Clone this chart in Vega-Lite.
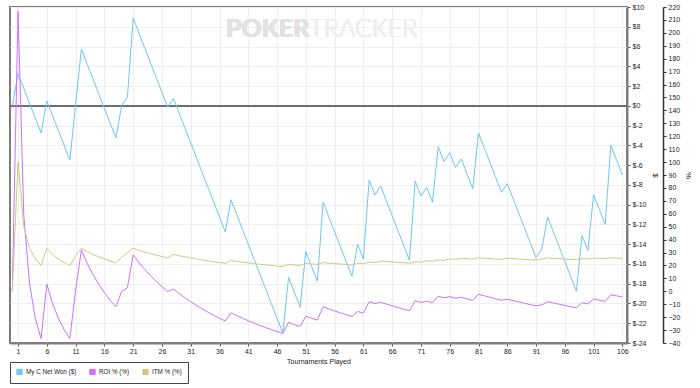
{
"$schema":"https://vega.github.io/schema/vega-lite/v6.json",
"width":617,"height":336,
"autosize":{"type":"none"},
"padding":{"left":10,"top":7,"right":73,"bottom":45},
"background":"white",
"config":{
 "font":"Liberation Sans",
 "view":{"stroke":"#7a7a7a","strokeWidth":2},
 "axis":{"labelFontSize":7,"labelColor":"#222","titleFontSize":7,"titleFontWeight":"normal","titleColor":"#222","tickColor":"#555","tickSize":3,"domainColor":"#808080","labelPadding":2,"labelOverlap":false,"tickCount":200},
 "legend":{"orient":"none","legendX":0,"legendY":355,"direction":"horizontal","title":null,"strokeColor":"#444","fillColor":"white","padding":6,"symbolType":"square","symbolSize":28,"symbolStrokeColor":"#333","symbolStrokeWidth":1,"labelFontSize":6.3,"labelOffset":3,"labelColor":"#222","columnPadding":10}
},
"data":{"values":[
{"t":0,"net":0,"roi":0,"itm":0},
{"t":1,"net":3.25,"roi":216.7,"itm":100},
{"t":2,"net":1.75,"roi":58.3,"itm":50},
{"t":3,"net":0.25,"roi":5.6,"itm":33.3},
{"t":4,"net":-1.25,"roi":-20.8,"itm":25},
{"t":5,"net":-2.75,"roi":-36.7,"itm":20},
{"t":6,"net":0.5,"roi":5.6,"itm":33.3},
{"t":7,"net":-1,"roi":-9.5,"itm":28.6},
{"t":8,"net":-2.5,"roi":-20.8,"itm":25},
{"t":9,"net":-4,"roi":-29.6,"itm":22.2},
{"t":10,"net":-5.5,"roi":-36.7,"itm":20},
{"t":11,"net":0.125,"roi":0.8,"itm":27.3},
{"t":12,"net":5.75,"roi":31.9,"itm":33.3},
{"t":13,"net":4.25,"roi":21.8,"itm":30.8},
{"t":14,"net":2.75,"roi":13.1,"itm":28.6},
{"t":15,"net":1.25,"roi":5.6,"itm":26.7},
{"t":16,"net":-0.25,"roi":-1,"itm":25},
{"t":17,"net":-1.75,"roi":-6.9,"itm":23.5},
{"t":18,"net":-3.25,"roi":-12,"itm":22.2},
{"t":19,"net":0,"roi":0,"itm":26.3},
{"t":20,"net":0.875,"roi":2.9,"itm":30},
{"t":21,"net":8.875,"roi":28.2,"itm":33.3},
{"t":22,"net":7.375,"roi":22.3,"itm":31.8},
{"t":23,"net":5.875,"roi":17,"itm":30.4},
{"t":24,"net":4.375,"roi":12.2,"itm":29.2},
{"t":25,"net":2.875,"roi":7.7,"itm":28},
{"t":26,"net":1.375,"roi":3.5,"itm":26.9},
{"t":27,"net":-0.125,"roi":-0.3,"itm":25.9},
{"t":28,"net":0.75,"roi":1.8,"itm":28.6},
{"t":29,"net":-0.75,"roi":-1.7,"itm":27.6},
{"t":30,"net":-2.25,"roi":-5,"itm":26.7},
{"t":31,"net":-3.75,"roi":-8.1,"itm":25.8},
{"t":32,"net":-5.25,"roi":-10.9,"itm":25},
{"t":33,"net":-6.75,"roi":-13.6,"itm":24.2},
{"t":34,"net":-8.25,"roi":-16.2,"itm":23.5},
{"t":35,"net":-9.75,"roi":-18.6,"itm":22.9},
{"t":36,"net":-11.25,"roi":-20.8,"itm":22.2},
{"t":37,"net":-12.75,"roi":-23,"itm":21.6},
{"t":38,"net":-9.5,"roi":-16.7,"itm":23.7},
{"t":39,"net":-11,"roi":-18.8,"itm":23.1},
{"t":40,"net":-12.5,"roi":-20.8,"itm":22.5},
{"t":41,"net":-14,"roi":-22.8,"itm":22},
{"t":42,"net":-15.5,"roi":-24.6,"itm":21.4},
{"t":43,"net":-17,"roi":-26.4,"itm":20.9},
{"t":44,"net":-18.5,"roi":-28,"itm":20.5},
{"t":45,"net":-20,"roi":-29.6,"itm":20},
{"t":46,"net":-21.5,"roi":-31.2,"itm":19.6},
{"t":47,"net":-23,"roi":-32.6,"itm":19.1},
{"t":48,"net":-17.375,"roi":-24.1,"itm":20.8},
{"t":49,"net":-18.875,"roi":-25.7,"itm":20.4},
{"t":50,"net":-20.375,"roi":-27.2,"itm":20},
{"t":51,"net":-14.75,"roi":-19.3,"itm":21.6},
{"t":52,"net":-16.25,"roi":-20.8,"itm":21.2},
{"t":53,"net":-17.75,"roi":-22.3,"itm":20.8},
{"t":54,"net":-9.75,"roi":-12,"itm":22.2},
{"t":55,"net":-11.25,"roi":-13.6,"itm":21.8},
{"t":56,"net":-12.75,"roi":-15.2,"itm":21.4},
{"t":57,"net":-14.25,"roi":-16.7,"itm":21.1},
{"t":58,"net":-15.75,"roi":-18.1,"itm":20.7},
{"t":59,"net":-17.25,"roi":-19.5,"itm":20.3},
{"t":60,"net":-14,"roi":-15.6,"itm":21.7},
{"t":61,"net":-15.5,"roi":-16.9,"itm":21.3},
{"t":62,"net":-7.5,"roi":-8.1,"itm":22.6},
{"t":63,"net":-9,"roi":-9.5,"itm":22.2},
{"t":64,"net":-8.125,"roi":-8.5,"itm":23.4},
{"t":65,"net":-9.625,"roi":-9.9,"itm":23.1},
{"t":66,"net":-11.125,"roi":-11.2,"itm":22.7},
{"t":67,"net":-12.625,"roi":-12.6,"itm":22.4},
{"t":68,"net":-14.125,"roi":-13.8,"itm":22.1},
{"t":69,"net":-15.625,"roi":-15.1,"itm":21.7},
{"t":70,"net":-7.625,"roi":-7.3,"itm":22.9},
{"t":71,"net":-9.125,"roi":-8.6,"itm":22.5},
{"t":72,"net":-8.25,"roi":-7.6,"itm":23.6},
{"t":73,"net":-9.75,"roi":-8.9,"itm":23.3},
{"t":74,"net":-4.125,"roi":-3.7,"itm":24.3},
{"t":75,"net":-5.625,"roi":-5,"itm":24},
{"t":76,"net":-4.75,"roi":-4.2,"itm":25},
{"t":77,"net":-6.25,"roi":-5.4,"itm":24.7},
{"t":78,"net":-5.375,"roi":-4.6,"itm":25.6},
{"t":79,"net":-6.875,"roi":-5.8,"itm":25.3},
{"t":80,"net":-8.375,"roi":-7,"itm":25},
{"t":81,"net":-2.75,"roi":-2.3,"itm":25.9},
{"t":82,"net":-4.25,"roi":-3.5,"itm":25.6},
{"t":83,"net":-5.75,"roi":-4.6,"itm":25.3},
{"t":84,"net":-7.25,"roi":-5.8,"itm":25},
{"t":85,"net":-8.75,"roi":-6.9,"itm":24.7},
{"t":86,"net":-7.875,"roi":-6.1,"itm":25.6},
{"t":87,"net":-9.375,"roi":-7.2,"itm":25.3},
{"t":88,"net":-10.875,"roi":-8.2,"itm":25},
{"t":89,"net":-12.375,"roi":-9.3,"itm":24.7},
{"t":90,"net":-13.875,"roi":-10.3,"itm":24.4},
{"t":91,"net":-15.375,"roi":-11.3,"itm":24.2},
{"t":92,"net":-14.5,"roi":-10.5,"itm":25},
{"t":93,"net":-11.25,"roi":-8.1,"itm":25.8},
{"t":94,"net":-12.75,"roi":-9,"itm":25.5},
{"t":95,"net":-14.25,"roi":-10,"itm":25.3},
{"t":96,"net":-15.75,"roi":-10.9,"itm":25},
{"t":97,"net":-17.25,"roi":-11.9,"itm":24.7},
{"t":98,"net":-18.75,"roi":-12.8,"itm":24.5},
{"t":99,"net":-13.125,"roi":-8.8,"itm":25.3},
{"t":100,"net":-14.625,"roi":-9.8,"itm":25},
{"t":101,"net":-9,"roi":-5.9,"itm":25.7},
{"t":102,"net":-10.5,"roi":-6.9,"itm":25.5},
{"t":103,"net":-12,"roi":-7.8,"itm":25.2},
{"t":104,"net":-4,"roi":-2.6,"itm":26},
{"t":105,"net":-5.5,"roi":-3.5,"itm":25.7},
{"t":106,"net":-7,"roi":-4.4,"itm":25.5}
]},
"layer":[
 {"layer":[
  {"mark":{"type":"text","text":"POKER","fontSize":25,"font":"Lato","fontWeight":"bold","color":"#e2e2e2","align":"right","baseline":"middle"},"encoding":{"x":{"datum":51.6,"type":"quantitative"},"y":{"datum":7.8,"type":"quantitative"}}},
  {"mark":{"type":"text","text":"TRACKER","fontSize":25,"font":"Lato","fontWeight":300,"color":"#eeeeee","align":"left","baseline":"middle"},"encoding":{"x":{"datum":51.6,"type":"quantitative"},"y":{"datum":7.8,"type":"quantitative"}}},
  {"mark":{"type":"rule","color":"#6e6e6e","strokeWidth":1.6},"encoding":{"y":{"datum":0,"type":"quantitative"}}},
  {"mark":{"type":"line","strokeWidth":1},"encoding":{
    "x":{"field":"t","type":"quantitative","scale":{"domain":[-0.4,106.8],"nice":false,"zero":false},"axis":{"values":[1,6,11,16,21,26,31,36,41,46,51,56,61,66,71,76,81,86,91,96,101,106],"format":"d","tickCount":200,"labelOverlap":false,"grid":true,"gridColor":"#efefef","title":"Tournaments Played","domainWidth":2,"titlePadding":3,"labelPadding":1}},
    "y":{"field":"net","type":"quantitative","scale":{"domain":[-24,10],"nice":false,"zero":false},"axis":{"orient":"right","values":[-24,-22,-20,-18,-16,-14,-12,-10,-8,-6,-4,-2,0,2,4,6,8,10],"tickCount":200,"labelOverlap":false,"labelExpr":"'$' + datum.value","title":"$","grid":true,"gridColor":"#efefef","domainWidth":2,"titlePadding":4,"titleFontSize":8}},
    "color":{"datum":"net","type":"nominal","scale":{"domain":["net","roi","itm"],"range":["#6cc6f5","#cc70ff","#cccc80"]},"legend":{"title":null,"labelExpr":"datum.label == 'net' ? 'My C Net Won ($)' : datum.label == 'roi' ? 'ROI % (%)' : 'ITM % (%)'","encode":{"symbols":{"update":{"fill":{"scale":"color","field":"value"},"stroke":{"value":"#333"}}}}}}
  }}
 ]},
 {"transform":[{"fold":["roi","itm"],"as":["series","pct"]}],
  "mark":{"type":"line","strokeWidth":1},
  "encoding":{
   "x":{"field":"t","type":"quantitative"},
   "y":{"field":"pct","type":"quantitative","scale":{"domain":[-40,220],"nice":false,"zero":false},"axis":{"orient":"right","offset":36,"values":[-40,-30,-20,-10,0,10,20,30,40,50,60,70,80,90,100,110,120,130,140,150,160,170,180,190,200,210,220],"format":"d","tickCount":200,"labelOverlap":false,"title":"%","grid":false,"domainColor":"#333","domainWidth":1.5,"tickColor":"#333","titlePadding":4,"titleFontSize":8}},
   "color":{"field":"series","type":"nominal","legend":{"title":null,"labelExpr":"datum.label == 'net' ? 'My C Net Won ($)' : datum.label == 'roi' ? 'ROI % (%)' : 'ITM % (%)'","encode":{"symbols":{"update":{"fill":{"scale":"color","field":"value"},"stroke":{"value":"#333"}}}}}}
  }}
],
"resolve":{"scale":{"y":"independent"}}
}
